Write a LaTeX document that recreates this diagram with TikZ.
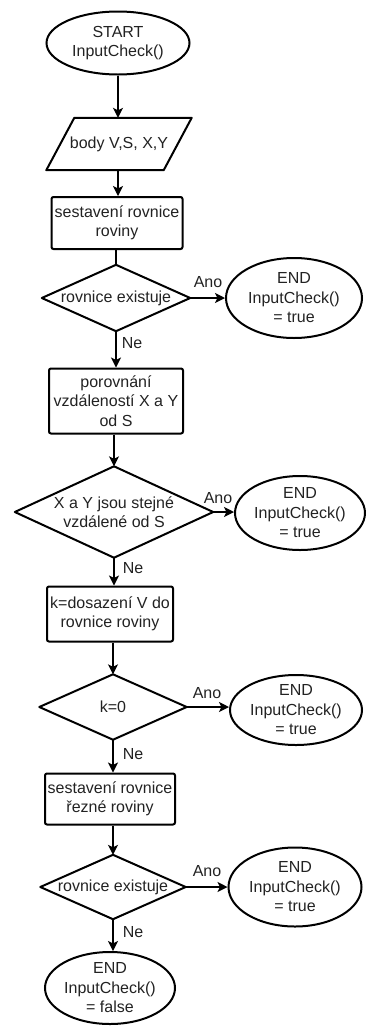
\documentclass[tikz,border=0pt]{standalone}
\usepackage{fontspec}
\setmainfont{Liberation Sans}
\usetikzlibrary{shapes.geometric,arrows.meta}
\definecolor{txt}{HTML}{222222}
\begin{document}
\begin{tikzpicture}[x=1pt,y=-1pt,
  every node/.style={font=\fontsize{16}{19.5}\selectfont, align=center, text=txt},
  term/.style={ellipse, draw=black, line width=2pt, inner sep=-6pt},
  proc/.style={rectangle, draw=black, line width=2pt, rounded corners=2pt, inner sep=0pt},
  dec/.style={rectangle, inner sep=0pt},
  io/.style={rectangle, inner sep=0pt},
  shapeline/.style={draw=black, line width=2pt, line join=round},
  arr/.style={line width=1.3pt, -{Stealth[length=10pt,width=10pt,inset=2.5pt]}},
  ln/.style={line width=1.3pt},
  lbl/.style={inner sep=0pt},
]
\useasboundingbox (0,0) rectangle (366,1026);

% nodes
\node[term, minimum width=143, minimum height=63] (start) at (118,43) {START\\InputCheck()};
\node[io, minimum width=145, minimum height=52] (in) at (119,144) {body V,S, X,Y};
\node[proc, minimum width=131, minimum height=52] (r1) at (117,223) {sestavení rovnice\\roviny};
\node[dec, minimum width=148, minimum height=66] (d1) at (116,298) {rovnice existuje};
\node[term, minimum width=136, minimum height=80] (e1) at (294,298) {END\\InputCheck()\\= true};
\node[proc, minimum width=134, minimum height=65] (r2) at (116,401) {porovnání\\vzdáleností X a Y\\od S};
\node[dec, minimum width=198, minimum height=91] (d2) at (114,512) {X a Y jsou stejné\\vzdálené od S};
\node[term, minimum width=130, minimum height=74] (e2) at (300,513) {END\\InputCheck()\\= true};
\node[proc, minimum width=126, minimum height=55] (r3) at (110,614) {k=dosazení V do\\rovnice roviny};
\node[dec, minimum width=147, minimum height=65] (d3) at (113,707) {k=0};
\node[term, minimum width=132, minimum height=70] (e3) at (296,710) {END\\InputCheck()\\= true};
\node[proc, minimum width=130, minimum height=51] (r4) at (110,799) {sestavení rovnice\\řezné roviny};
\node[dec, minimum width=145, minimum height=64] (d4) at (113,887) {rovnice existuje};
\node[term, minimum width=133, minimum height=79] (e4) at (295,887) {END\\InputCheck()\\= true};
\node[term, minimum width=130, minimum height=72] (e5) at (110,988) {END\\InputCheck()\\= false};

% parallelogram outline
\draw[shapeline] ([xshift=28]in.north west) -- (in.north east) -- ([xshift=-28]in.south east) -- (in.south west) -- cycle;
% diamond outlines
\foreach \n in {d1,d2,d3,d4}
  \draw[shapeline] (\n.north) -- (\n.east) -- (\n.south) -- (\n.west) -- cycle;

% vertical connectors
\draw[arr] (start.south) -- (start.south |- in.north);
\draw[arr] (in.south -| start.south) -- (r1.north -| start.south);
\draw[ln] (r1.south -| d1.north) -- (d1.north);
\draw[arr] (d1.south) -- (d1.south |- r2.north);
\draw[arr] (r2.south -| d2.north) -- (d2.north);
\draw[arr] (d2.south) -- (d2.south |- r3.north);
\draw[arr] (r3.south -| d3.north) -- (d3.north);
\draw[arr] (d3.south) -- (d3.south |- r4.north);
\draw[arr] (r4.south -| d4.north) -- (d4.north);
\draw[arr] (d4.south) -- (d4.south |- e5.north);

% horizontal connectors
\draw[arr] (d1.east) -- (d1.east -| e1.west);
\draw[arr] (d2.east) -- (d2.east -| e2.west);
\draw[arr] (d3.east) -- (d3.east -| e3.west);
\draw[arr] (d4.east) -- (d4.east -| e4.west);

% labels
\node[lbl] (ano1) at (208,282) {Ano};
\node[lbl] (ano2) at (218,498) {Ano};
\node[lbl] (ano3) at (207,693) {Ano};
\node[lbl] (ano4) at (207,871) {Ano};
\node[lbl] (ne1) at (132,343) {Ne};
\node[lbl] (ne2) at (133,568) {Ne};
\node[lbl] (ne3) at (133,754) {Ne};
\node[lbl] (ne4) at (133,932) {Ne};
\end{tikzpicture}
\end{document}
